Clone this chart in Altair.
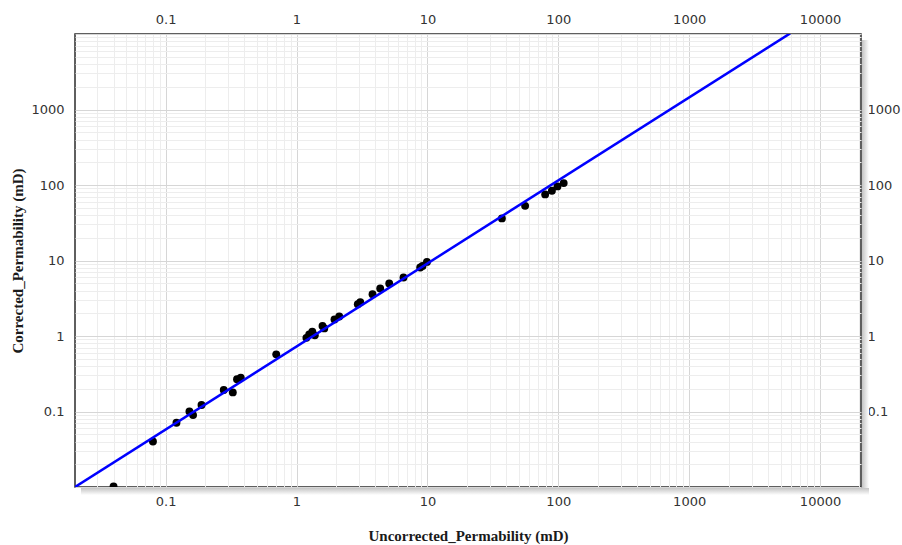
import altair as alt
import pandas as pd

# ---- data ----
uncorrected = [0.040, 0.080, 0.121, 0.152, 0.162, 0.188, 0.278, 0.326, 0.351, 0.375,
               0.700, 1.19, 1.25, 1.32, 1.38, 1.58, 1.63, 1.95, 2.12, 2.94, 3.07,
               3.81, 4.36, 5.11, 6.57, 8.81, 9.18, 9.92, 37.1, 55.8, 79.4, 89.4,
               98.6, 110.0]
corrected = [0.0102, 0.0401, 0.071, 0.100, 0.0896, 0.122, 0.193, 0.179, 0.267, 0.281,
             0.572, 0.946, 1.05, 1.14, 1.02, 1.36, 1.26, 1.66, 1.81, 2.63, 2.80,
             3.57, 4.25, 4.95, 5.95, 8.08, 8.48, 9.58, 36.1, 53.0, 75.0, 83.8,
             95.8, 106.0]
fit_x = [0.0203, 5910.0]
fit_y = [0.0100, 10190.0]
x_major_labels = ["0.1", "1", "10", "100", "1000", "10000"]
y_major_labels = ["0.1", "1", "10", "100", "1000"]

X_DOMAIN = [0.0203, 20560]
Y_DOMAIN = [0.01, 10000]
W, H = 786, 453

def log_grid(lo, hi):
    vals = []
    for e in range(-3, 6):
        for m in range(1, 10):
            v = round(m * 10 ** e, 6)
            if lo <= v <= hi:
                vals.append(v)
    return vals

x_grid = log_grid(*X_DOMAIN)
y_grid = log_grid(*Y_DOMAIN)

pts = pd.DataFrame({"u": uncorrected, "c": corrected})
fit = pd.DataFrame({"u": fit_x, "c": fit_y})

IS_MAJOR = "abs(log(datum.value)/LN10 - round(log(datum.value)/LN10)) < 1e-6"
grid_color = {"condition": {"test": IS_MAJOR, "value": "#d6d6d6"}, "value": "#ededed"}

def lab_expr(labels):
    arr = "[" + ",".join("'" + s + "'" for s in labels) + "]"
    return f"indexof({arr}, format(datum.value, '~g')) >= 0 ? format(datum.value, '~g') : ''"

LABEL_FONT = "DejaVu Sans"
TITLE_FONT = "Liberation Serif"

xs = alt.Scale(type="log", domain=X_DOMAIN, nice=False)
ys = alt.Scale(type="log", domain=Y_DOMAIN, nice=False)

x_bottom = alt.Axis(values=x_grid, grid=True, gridColor=grid_color, gridWidth=1,
                    ticks=False, domain=False, labelExpr=lab_expr(x_major_labels),
                    labelOverlap=False, labelFlush=False, labelPadding=8,
                    labelFont=LABEL_FONT, labelFontSize=13, labelColor="#333333",
                    title="Uncorrected_Permability (mD)", titleFont=TITLE_FONT,
                    titleFontSize=15, titleFontWeight="bold", titleColor="#1a1a1a",
                    titleY=53, titleBaseline="alphabetic")
y_left = alt.Axis(values=y_grid, grid=True, gridColor=grid_color, gridWidth=1,
                  ticks=False, domain=False, labelExpr=lab_expr(y_major_labels),
                  labelOverlap=False, labelFlush=False, labelPadding=11,
                  labelFont=LABEL_FONT, labelFontSize=13, labelColor="#333333",
                  title="Corrected_Permability (mD)", titleFont=TITLE_FONT,
                  titleFontSize=15, titleFontWeight="bold", titleColor="#1a1a1a",
                  titleX=-53, titleY=H / 2, titleAngle=-90, titleBaseline="alphabetic")
x_top = alt.Axis(orient="top", values=x_grid, grid=False, ticks=False, domain=False,
                 labelExpr=lab_expr(x_major_labels), labelOverlap=False,
                 labelFlush=False, labelPadding=8, labelFont=LABEL_FONT,
                 labelFontSize=13, labelColor="#333333", title=None)
y_right = alt.Axis(orient="right", values=y_grid, grid=False, ticks=False, domain=False,
                   labelExpr=lab_expr(y_major_labels), labelOverlap=False,
                   labelFlush=False, labelPadding=6, labelFont=LABEL_FONT,
                   labelFontSize=13, labelColor="#333333", title=None)

points = alt.Chart(pts).mark_circle(size=62, color="black", opacity=1, clip=True).encode(
    x=alt.X("u:Q", scale=xs, axis=x_bottom),
    y=alt.Y("c:Q", scale=ys, axis=y_left),
)

line = alt.Chart(fit).mark_line(color="#0000ff", strokeWidth=2.5, clip=True).encode(
    x=alt.X("u:Q", scale=xs, axis=x_top),
    y=alt.Y("c:Q", scale=ys, axis=y_right),
)

shadow_right = alt.Chart(pts).mark_rect(
    fill={"gradient": "linear", "x1": 0, "y1": 0, "x2": 1, "y2": 0,
          "stops": [{"offset": 0, "color": "#c4c4c4"}, {"offset": 1, "color": "#ffffff"}]},
    clip=False,
).encode(x=alt.value(W + 1), x2=alt.value(W + 8), y=alt.value(6), y2=alt.value(H + 1))

shadow_bottom = alt.Chart(pts).mark_rect(
    fill={"gradient": "linear", "x1": 0, "y1": 0, "x2": 0, "y2": 1,
          "stops": [{"offset": 0, "color": "#c4c4c4"}, {"offset": 1, "color": "#ffffff"}]},
    clip=False,
).encode(x=alt.value(6), x2=alt.value(W + 8), y=alt.value(H + 1), y2=alt.value(H + 8))

chart = alt.layer(shadow_right, shadow_bottom, points, line).resolve_axis(
    x="independent", y="independent"
).properties(
    width=W, height=H,
    autosize=alt.AutoSizeParams(type="none"),
    padding={"left": 75, "top": 34, "right": 41, "bottom": 58},
    background="white",
).configure_view(stroke="#2b2b2b", strokeWidth=1.5)

chart.save("out.html", embed_options={"renderer": "svg", "actions": False})
